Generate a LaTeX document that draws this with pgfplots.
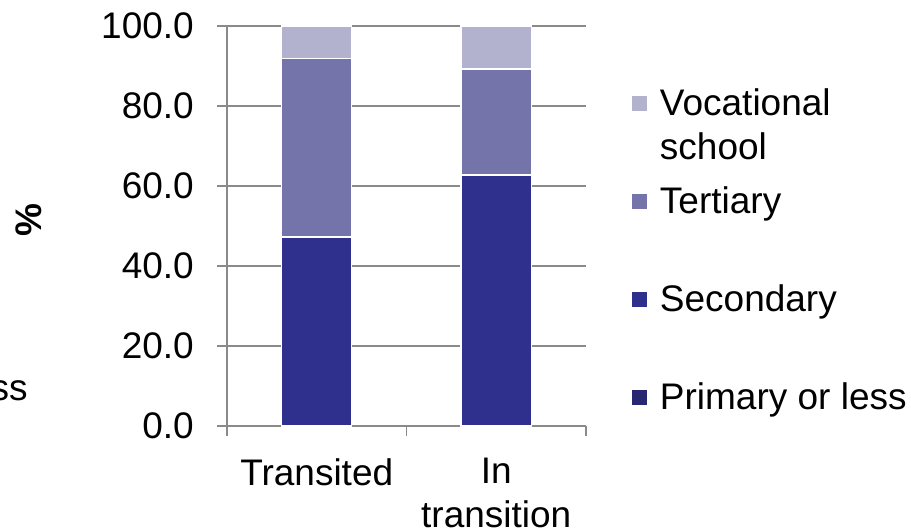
\documentclass[border=0pt]{standalone}
\usepackage{pgfplots}
\pgfplotsset{compat=1.18}
\usepackage{fontspec}
\setmainfont{Liberation Sans}

\definecolor{primcol}{RGB}{39,39,114}
\definecolor{seccol}{RGB}{47,48,141}
\definecolor{tercol}{RGB}{116,116,170}
\definecolor{voccol}{RGB}{178,178,206}
\definecolor{axgray}{RGB}{138,138,138}

\begin{document}
\begin{tikzpicture}[font=\fontsize{37bp}{44bp}\selectfont]
\path[use as bounding box] (-227bp,-102bp) rectangle (684bp,426bp);
\begin{axis}[
  at={(0bp,0bp)}, anchor=south west,
  scale only axis, width=359bp, height=400bp,
  xmin=-0.5, xmax=1.5, ymin=0, ymax=100,
  ybar stacked, bar width=70bp,
  axis x line*=bottom, axis y line*=left,
  axis line style={draw=axgray, line width=1.3bp, -},
  xtick={0,1}, xticklabels={Transited, In\\transition},
  xticklabel style={align=center, anchor=north, inner sep=0pt, yshift=-22bp},
  minor xtick={-0.5,0.5,1.5},
  major x tick style={draw=none},
  minor x tick style={draw=axgray, line width=1.3bp},
  minor tick length=10bp,
  ytick={0,20,40,60,80,100},
  major tick length=10bp,
  tick align=outside,
  y tick style={draw=axgray, line width=1.3bp},
  yticklabel style={inner sep=0pt, xshift=-23bp, /pgf/number format/.cd, fixed, fixed zerofill, precision=1, assume math mode=true},
  ymajorgrids, grid style={draw=axgray, line width=1.3bp},
  ylabel={\textbf{\%}},
  every axis y label/.style={at={(axis description cs:-0.5515,0.515)}, rotate=90, anchor=center},
  reverse legend,
  legend style={at={(axis description cs:1.1281,0.845)}, anchor=north west,
    draw=none, fill=none, inner sep=0pt, row sep=63bp, column sep=0pt,
    font=\fontsize{37bp}{44bp}\selectfont,
    cells={anchor=base west},
    nodes={inner sep=0pt, text height=27bp, text depth=8bp}},
  legend image code/.code={\fill[#1, draw=none] (0bp,4.5bp) rectangle (15bp,19.5bp); \path (27bp,0bp);},
]
\addplot[fill=primcol, draw=white, line width=1.5bp] coordinates {(0,0) (1,0)};
\addlegendentry{Primary or less}
\addplot[fill=seccol, draw=white, line width=1.5bp] coordinates {(0,47.3) (1,62.8)};
\addlegendentry{Secondary}
\addplot[fill=tercol, draw=white, line width=1.5bp] coordinates {(0,44.6) (1,26.4)};
\addlegendentry{Tertiary}
\addplot[fill=voccol, draw=white, line width=1.5bp] coordinates {(0,8.1) (1,10.8)};
\addlegendentry{\begin{tabular}[t]{@{}l@{}}Vocational\\school\end{tabular}}
\end{axis}
% label of a neighbouring legend, running off the left edge
\node[anchor=base east, inner sep=0pt] at (-199bp,26bp) {Primary or less};
\end{tikzpicture}
\end{document}
